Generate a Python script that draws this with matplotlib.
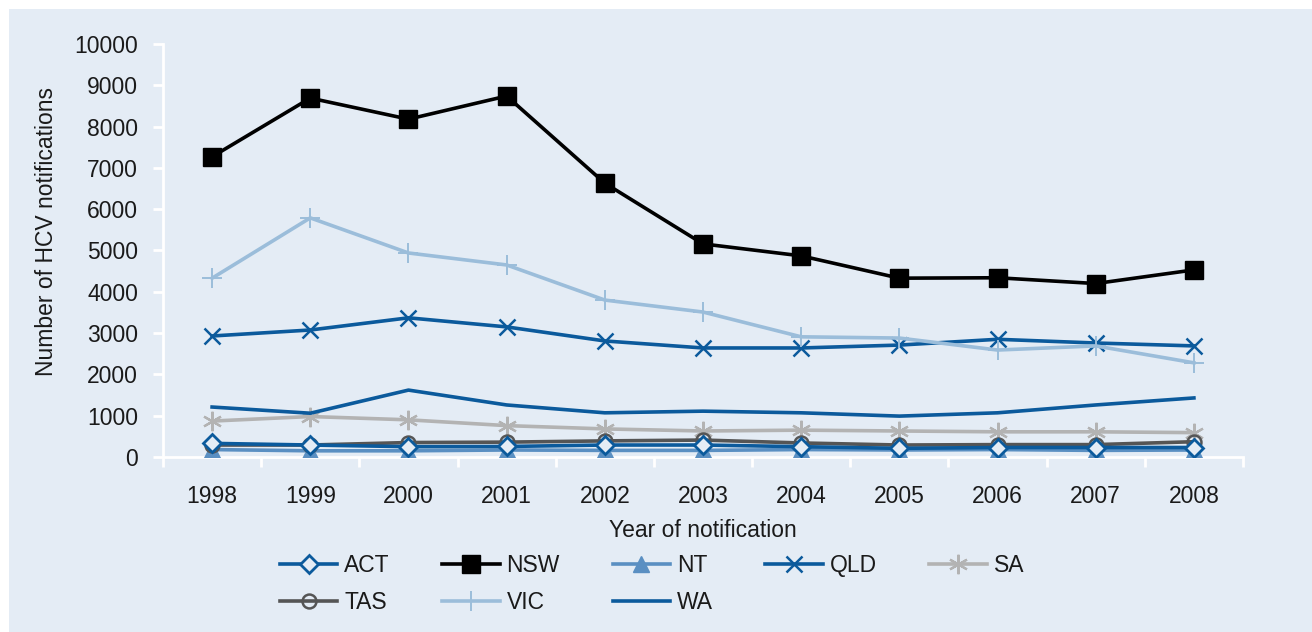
import matplotlib
matplotlib.use("Agg")
import matplotlib.pyplot as plt
from matplotlib.patches import Rectangle

years = ["1998", "1999", "2000", "2001", "2002", "2003", "2004", "2005", "2006", "2007", "2008"]

act = [330, 290, 250, 255, 290, 290, 250, 210, 230, 230, 230]
nsw = [7270, 8690, 8180, 8740, 6630, 5160, 4870, 4330, 4340, 4200, 4530]
nt = [180, 150, 150, 170, 160, 160, 180, 170, 180, 160, 170]
qld = [2930, 3075, 3370, 3150, 2810, 2640, 2640, 2710, 2850, 2760, 2690]
sa = [870, 980, 900, 760, 680, 630, 650, 630, 610, 610, 590]
tas = [290, 290, 350, 360, 390, 410, 340, 290, 300, 300, 370]
vic = [4330, 5790, 4940, 4650, 3800, 3510, 2910, 2880, 2590, 2690, 2280]
wa = [1210, 1060, 1620, 1260, 1070, 1110, 1070, 990, 1070, 1260, 1430]

BG = "#E4ECF5"
DARK_BLUE = "#0B5A9C"
TXT = "#1a1a1a"
FS = 16.5

plt.rcParams["font.family"] = ["Liberation Sans", "DejaVu Sans"]

fig = plt.figure(figsize=(13.12, 6.32), dpi=100)
fig.patch.set_facecolor("white")
fig.patches.append(Rectangle((9 / 1312, 0), 1 - 9 / 1312, 1 - 9 / 632,
                             transform=fig.transFigure, facecolor=BG,
                             edgecolor="none", zorder=-10))

ax = fig.add_axes([163 / 1312, 1 - 457 / 632, (1243 - 163) / 1312, (457 - 44) / 632])
ax.set_facecolor(BG)

x = list(range(len(years)))
lw = 2.6

h_act, = ax.plot(x, act, color=DARK_BLUE, lw=lw, marker="D", ms=9,
                 mfc=BG, mec=DARK_BLUE, mew=2, label="ACT", zorder=9)
h_nsw, = ax.plot(x, nsw, color="black", lw=lw, marker="s", ms=13,
                 mfc="black", mec="black", label="NSW", zorder=5)
h_nt, = ax.plot(x, nt, color="#5A8FC2", lw=lw, marker="^", ms=12,
                mfc="#5A8FC2", mec="#5A8FC2", label="NT", zorder=4)
h_qld, = ax.plot(x, qld, color=DARK_BLUE, lw=lw, marker="x", ms=12,
                 mew=1.8, label="QLD", zorder=5)
h_sa, = ax.plot(x, sa, color="#B3B3B3", lw=lw, marker=(6, 2, 0), ms=14,
                mew=1.6, label="SA", zorder=5)
h_tas, = ax.plot(x, tas, color="#555555", lw=lw, marker="o", ms=10,
                 mfc="none", mec="#555555", mew=1.8, label="TAS", zorder=6)
h_vic, = ax.plot(x, vic, color="#9BBDDA", lw=lw, marker="+", ms=14,
                 mew=1.4, label="VIC", zorder=5)
h_wa, = ax.plot(x, wa, color=DARK_BLUE, lw=lw, label="WA", zorder=7)

ax.set_xlim(-0.5, len(years) - 0.5)
ax.set_ylim(0, 10000)
ax.set_yticks(range(0, 10001, 1000))
ax.set_yticklabels([str(v) for v in range(0, 10001, 1000)])
ax.set_xticks(x)
ax.set_xticklabels(years)
ax.set_xticks([i - 0.5 for i in range(len(years) + 1)], minor=True)

for side in ("top", "right"):
    ax.spines[side].set_visible(False)
for side in ("left", "bottom"):
    ax.spines[side].set_color("white")
    ax.spines[side].set_linewidth(2)

ax.tick_params(axis="y", direction="out", length=7, width=2, color="white",
               labelsize=FS, pad=11, labelcolor=TXT)
ax.tick_params(axis="x", which="major", length=0, labelsize=FS, pad=20,
               labelcolor=TXT)
ax.tick_params(axis="x", which="minor", direction="out", length=7, width=2,
               color="white")

ax.set_xlabel("Year of notification", fontsize=FS, color=TXT, labelpad=8)
ax.set_ylabel("Number of HCV notifications", fontsize=FS, color=TXT,
              va="center")
ax.yaxis.set_label_coords((47 - 163) / 1080, 0.546)

handles = [h_act, h_tas, h_nsw, h_vic, h_nt, h_wa, h_qld, h_sa]
leg = fig.legend(handles=handles, labels=[h.get_label() for h in handles],
                 ncol=5, loc="center", bbox_to_anchor=(652 / 1312, 1 - 584 / 632),
                 frameon=False, fontsize=FS, handlelength=2.5,
                 columnspacing=2.3, handletextpad=0.3, labelspacing=0.6)
for t in leg.get_texts():
    t.set_color(TXT)

fig.savefig("out.png", dpi=100, facecolor=fig.get_facecolor())
